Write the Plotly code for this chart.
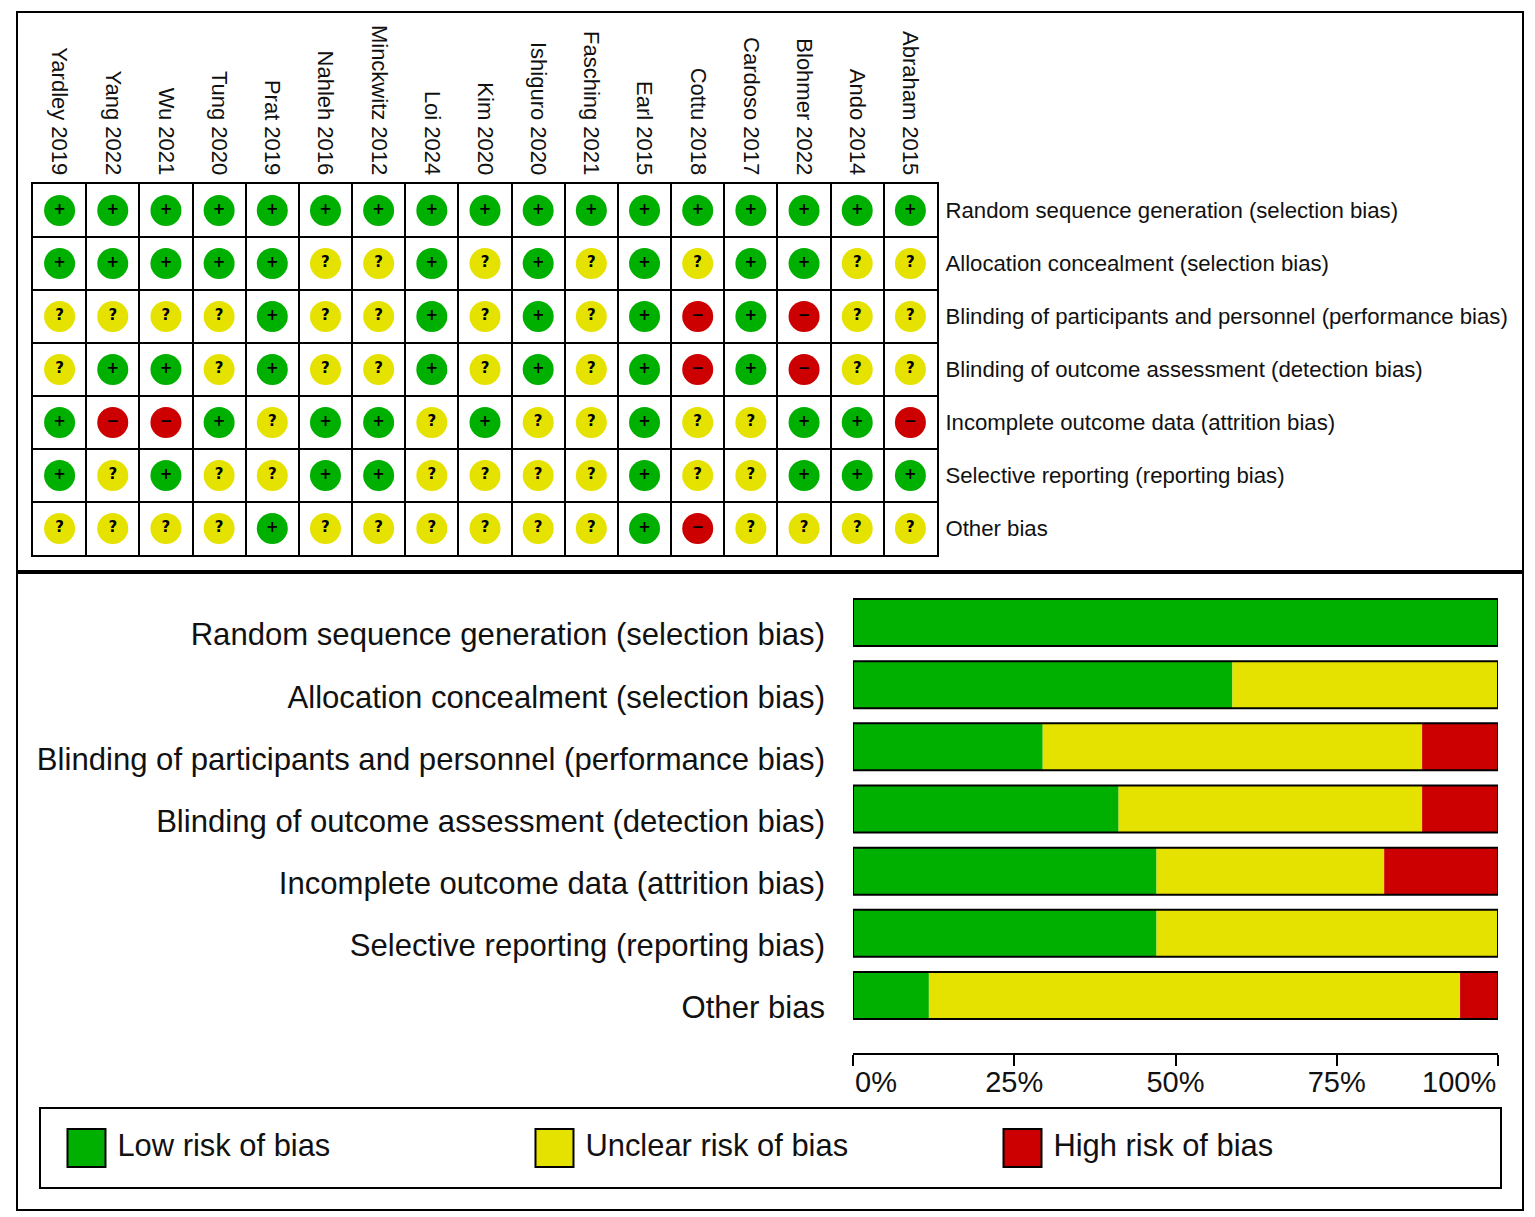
import plotly.graph_objects as go

# --- Studies (columns of the summary grid) ---
studies = ["Yardley 2019", "Yang 2022", "Wu 2021", "Tung 2020", "Prat 2019",
           "Nahleh 2016", "Minckwitz 2012", "Loi 2024", "Kim 2020", "Ishiguro 2020",
           "Fasching 2021", "Earl 2015", "Cottu 2018", "Cardoso 2017", "Blohmer 2022",
           "Ando 2014", "Abraham 2015"]

# --- Bias domains (rows) ---
domains = ["Random sequence generation (selection bias)",
           "Allocation concealment (selection bias)",
           "Blinding of participants and personnel (performance bias)",
           "Blinding of outcome assessment (detection bias)",
           "Incomplete outcome data (attrition bias)",
           "Selective reporting (reporting bias)",
           "Other bias"]

# --- Judgements per domain: + low, ? unclear, - high ---
random_seq = ["+", "+", "+", "+", "+", "+", "+", "+", "+", "+", "+", "+", "+", "+", "+", "+", "+"]
allocation = ["+", "+", "+", "+", "+", "?", "?", "+", "?", "+", "?", "+", "?", "+", "+", "?", "?"]
blind_part = ["?", "?", "?", "?", "+", "?", "?", "+", "?", "+", "?", "+", "-", "+", "-", "?", "?"]
blind_out = ["?", "+", "+", "?", "+", "?", "?", "+", "?", "+", "?", "+", "-", "+", "-", "?", "?"]
incomplete = ["+", "-", "-", "+", "?", "+", "+", "?", "+", "?", "?", "+", "?", "?", "+", "+", "-"]
selective = ["+", "?", "+", "?", "?", "+", "+", "?", "?", "?", "?", "+", "?", "?", "+", "+", "+"]
other = ["?", "?", "?", "?", "+", "?", "?", "?", "?", "?", "?", "+", "-", "?", "?", "?", "?"]

judgements = [random_seq, allocation, blind_part, blind_out, incomplete, selective, other]

levels = ["+", "?", "-"]
level_names = ["Low risk of bias", "Unclear risk of bias", "High risk of bias"]
level_colors = ["#00b000", "#e6e200", "#cc0000"]
level_glyphs = ["<b>+</b>", "<b>?</b>", "<b>\u2212</b>"]

# x-axis ticks of the summary graph
pct_ticks = [0, 25, 50, 75, 100]
pct_labels = ["0%", "25%", "50%", "75%", "100%"]

# page body has an 8px margin, so the figure is drawn 8px in from the corner
OFF = 8
W, H = 1535 - OFF, 1217 - OFF
FONT = "Liberation Sans, Arial, sans-serif"


def px_x(p):
    return (p - OFF) / W


def px_y(p):
    return 1 - (p - OFF) / H


fig = go.Figure()

# ============================================================
# Summary grid (top panel)
# ============================================================
for lv, name, col, glyph in zip(levels, level_names, level_colors, level_glyphs):
    xs, ys = [], []
    for r, row in enumerate(judgements):
        for c, j in enumerate(row):
            if j == lv:
                xs.append(c)
                ys.append(r)
    fig.add_trace(go.Scatter(
        x=xs, y=ys, mode="markers+text",
        marker=dict(symbol="circle", size=31, color=col, line=dict(width=0)),
        text=[glyph] * len(xs), textposition="middle center",
        textfont=dict(family="DejaVu Sans, sans-serif", size=15, color="black"),
        showlegend=False, hoverinfo="skip", xaxis="x", yaxis="y"
    ))

# ============================================================
# Summary graph (bottom panel) - percentages per domain
# ============================================================
n = len(studies)
pct = {lv: [row.count(lv) / n * 100 for row in judgements] for lv in levels}
bases = {
    "+": [0] * len(domains),
    "?": pct["+"],
    "-": [a + b for a, b in zip(pct["+"], pct["?"])],
}

for lv, name, col in zip(levels, level_names, level_colors):
    fig.add_trace(go.Bar(
        x=pct[lv], y=domains, base=bases[lv], orientation="h",
        marker=dict(color=col, line=dict(width=0)),
        showlegend=False, hoverinfo="skip", xaxis="x2", yaxis="y2"
    ))

totals = [a + b + c for a, b, c in zip(pct["+"], pct["?"], pct["-"])]
fig.add_trace(go.Bar(
    x=totals, y=domains, base=[0] * len(domains), orientation="h",
    marker=dict(color="rgba(0,0,0,0)", line=dict(color="black", width=2)),
    showlegend=False, hoverinfo="skip", xaxis="x2", yaxis="y2"
))

# ============================================================
# Legend (drawn as its own little axis)
# ============================================================
fig.add_trace(go.Scatter(
    x=list(range(len(levels))), y=[0] * len(levels), mode="markers+text",
    marker=dict(symbol="square", size=38, color=level_colors,
                line=dict(color="black", width=2)),
    text=["\u2009" + t for t in level_names], textposition="middle right",
    textfont=dict(family=FONT, size=30.9, color="#111"),
    showlegend=False, hoverinfo="skip", xaxis="x4", yaxis="y4"
))

half = [i + 0.5 for i in range(n - 1)]
half_rows = [i + 0.5 for i in range(len(domains) - 1)]

# middle tick labels come from the axis, the two end labels sit inside the ends
mid_labels = [""] + pct_labels[1:-1] + [""]
end_labels = [
    dict(x=pct_ticks[0], text=pct_labels[0], xanchor="left"),
    dict(x=pct_ticks[-1], text=pct_labels[-1], xanchor="right"),
]
annotations = [
    dict(xref="x2", yref="paper", y=px_y(1082), yanchor="middle",
         showarrow=False, font=dict(size=29, color="#111"), **e)
    for e in end_labels
]

fig.update_layout(
    width=W, height=H,
    margin=dict(l=0, r=0, t=0, b=0),
    paper_bgcolor="white", plot_bgcolor="white",
    font=dict(family=FONT, color="#111"),
    barmode="overlay", bargap=0.244,
    annotations=annotations,
    xaxis=dict(
        domain=[px_x(33), px_x(937)], range=[-0.5, n - 0.5],
        side="top", tickmode="array", tickvals=list(range(n)), ticktext=studies,
        tickangle=90, tickfont=dict(size=22), ticks="", ticklabelstandoff=-1,
        showgrid=False, zeroline=False, automargin=False,
        showline=True, mirror=True, linecolor="black", linewidth=2,
        minor=dict(tickmode="array", tickvals=half, showgrid=True,
                   gridcolor="black", gridwidth=2, ticks=""),
        fixedrange=True,
    ),
    yaxis=dict(
        domain=[px_y(555), px_y(184)], range=[len(domains) - 0.5, -0.5],
        side="right", tickmode="array", tickvals=list(range(len(domains))),
        ticktext=domains, tickfont=dict(size=22.2), ticks="", ticklabelstandoff=2,
        showgrid=False, zeroline=False, automargin=False,
        showline=True, mirror=True, linecolor="black", linewidth=2,
        minor=dict(tickmode="array", tickvals=half_rows, showgrid=True,
                   gridcolor="black", gridwidth=2, ticks=""),
        fixedrange=True,
    ),
    xaxis2=dict(
        domain=[px_x(853), px_x(1498)], range=[0, 100],
        anchor="free", position=px_y(1054),
        tickmode="array", tickvals=pct_ticks, ticktext=mid_labels,
        ticks="outside", ticklen=11, tickwidth=2, tickcolor="black",
        tickfont=dict(size=29), ticklabelstandoff=-9,
        automargin=False,
        showline=True, linecolor="black", linewidth=2,
        showgrid=False, zeroline=False, fixedrange=True,
    ),
    xaxis3=dict(
        domain=[px_x(853), px_x(1498)], range=[0, 100],
        overlaying="x2", anchor="free", position=px_y(1054),
        tickmode="array", tickvals=pct_ticks,
        ticks="inside", ticklen=11, tickwidth=2, tickcolor="black",
        showticklabels=False, showline=False, showgrid=False, zeroline=False,
        automargin=False, fixedrange=True,
    ),
    yaxis2=dict(
        domain=[px_y(1026.6), px_y(591.4)], anchor="x2",
        type="category", range=[len(domains) - 0.5, -0.5],
        ticks="", tickfont=dict(size=31.1), ticklabelstandoff=27,
        ticklabelshift=-12,
        showline=False, showgrid=False, zeroline=False,
        automargin=False, fixedrange=True,
    ),
    xaxis4=dict(
        domain=[px_x(41), px_x(1500)], range=[-0.0972, 3.0203], anchor="y4",
        showticklabels=False, ticks="", showgrid=False, zeroline=False,
        showline=True, mirror=True, linecolor="black", linewidth=2,
        automargin=False, fixedrange=True,
    ),
    yaxis4=dict(
        domain=[px_y(1187), px_y(1109)], range=[-1, 1], anchor="x4",
        showticklabels=False, ticks="", showgrid=False, zeroline=False,
        showline=True, mirror=True, linecolor="black", linewidth=2,
        automargin=False, fixedrange=True,
    ),
    shapes=[
        dict(type="rect", xref="paper", yref="paper",
             x0=px_x(17), x1=px_x(1523), y0=px_y(1210), y1=px_y(12),
             line=dict(color="black", width=2)),
        dict(type="line", xref="paper", yref="paper",
             x0=px_x(17), x1=px_x(1523), y0=px_y(572), y1=px_y(572),
             line=dict(color="black", width=4)),
    ],
)

fig.write_html("out.html")
